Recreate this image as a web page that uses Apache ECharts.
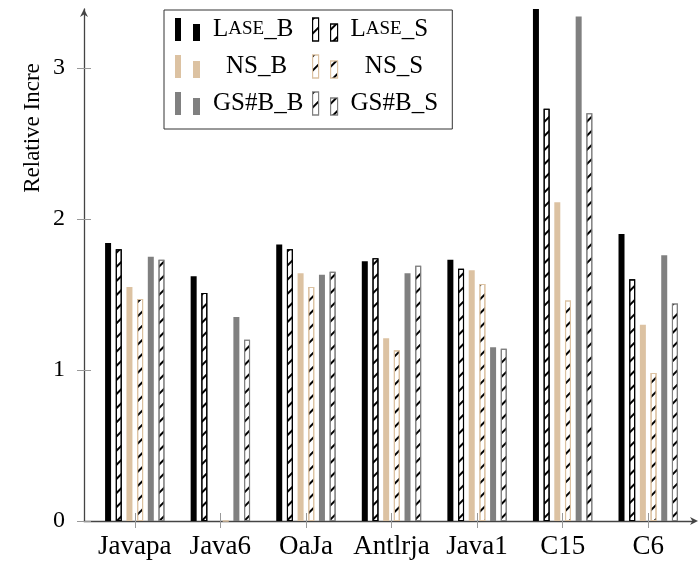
<!DOCTYPE html>
<html><head><meta charset="utf-8">
<script src="https://cdn.jsdelivr.net/npm/echarts@6/dist/echarts.min.js"></script>
<style>html,body{margin:0;padding:0;background:#fff}#c{width:699px;height:563px}</style>
</head><body><div id="c"></div>
<script>
const categories = ['Javapa', 'Java6', 'OaJa', 'Antlrja', 'Java1', 'C15', 'C6'];
const laseB = [1.84, 1.62, 1.83, 1.72, 1.73, 3.40, 1.90];
const laseS = [1.80, 1.51, 1.80, 1.74, 1.67, 2.73, 1.60];
const nsB   = [1.55, 0,    1.64, 1.21, 1.66, 2.11, 1.30];
const nsS   = [1.47, 0,    1.55, 1.13, 1.57, 1.46, 0.98];
const gsB   = [1.75, 1.35, 1.63, 1.64, 1.15, 3.34, 1.76];
const gsS   = [1.73, 1.20, 1.65, 1.69, 1.14, 2.70, 1.44];
const yTicks = [0, 1, 2, 3];
const yMax = 3.39;
const yTitle = 'Relative Incre';

const FONT = 'Liberation Serif';
const BLACK = '#000000', TAN = '#dcc2a2', GRAY = '#808080';
const hatch = { symbol: 'rect', symbolSize: 1, dashArrayX: [1, 0], dashArrayY: [2, 8], rotation: -Math.PI / 4, color: '#000' };
const arrow = 'path://M5,0 L10,10 L5,7 L0,10 Z';

function solid(name, data, color) {
  return { name, type: 'bar', xAxisIndex: 1, yAxisIndex: 1, data, barWidth: 6, barGap: '78%',
    itemStyle: { color } };
}
function hatched(name, data, border) {
  return { name, type: 'bar', xAxisIndex: 1, yAxisIndex: 1, data, barWidth: 6, barGap: '78%',
    itemStyle: { color: '#fff', borderColor: border, borderWidth: 1.1, decal: hatch } };
}

const labelMap = {
  'Lase_B': '{a|L}{b|ASE}{a|_B}',
  'Lase_S': '{a|L}{b|ASE}{a|_S}',
  'NS_B': '{c|NS_B}',
  'NS_S': '{c|NS_S}',
  'GS#B_B': '{a|GS#B_B}',
  'GS#B_S': '{a|GS#B_S}'
};

const legendText = {
  width: 87, lineHeight: 23, padding: [0, 0, 0, 8], color: '#000', fontFamily: FONT, fontSize: 25,
  rich: {
    a: { fontFamily: FONT, fontSize: 25, color: '#000' },
    b: { fontFamily: FONT, fontSize: 19, color: '#000' },
    c: { fontFamily: FONT, fontSize: 25, color: '#000', align: 'center' }
  }
};
const legendIcon = 'path://M0,0h6v23h-6Z M18,6h7v17h-7Z';

const chart = echarts.init(document.getElementById('c'));
chart.setOption({
  animation: false,
  backgroundColor: '#fff',
  grid: [
    { left: 84, right: 5, top: 9, bottom: 42 },
    { left: 92, right: 8, top: 9, bottom: 42 }
  ],
  xAxis: [
    { gridIndex: 0, type: 'value', min: 0, max: 1,
      axisLine: { show: true, onZero: false, symbol: ['none', arrow], symbolSize: [10, 8], lineStyle: { color: '#444', width: 1.3 } },
      axisTick: { show: false }, axisLabel: { show: false }, splitLine: { show: false } },
    { gridIndex: 1, type: 'category', data: categories, position: 'bottom',
      axisLine: { show: false, onZero: false },
      axisTick: { show: true, alignWithLabel: true, length: 7, lineStyle: { color: '#999', width: 1 } },
      axisLabel: { color: '#000', fontFamily: FONT, fontSize: 27, margin: 12, interval: 0 },
      splitLine: { show: false } },
    { gridIndex: 1, type: 'category', data: categories, position: 'bottom',
      axisLine: { show: false, onZero: false },
      axisTick: { show: true, inside: true, alignWithLabel: true, length: 8, lineStyle: { color: '#999', width: 1 } },
      axisLabel: { show: false }, splitLine: { show: false } }
  ],
  yAxis: [
    { gridIndex: 0, type: 'value', min: 0, max: yMax, position: 'left',
      axisLine: { show: true, onZero: false, symbol: ['none', arrow], symbolSize: [10, 8], symbolOffset: [0, -4], lineStyle: { color: '#444', width: 1.3 } },
      axisTick: { show: true, length: 7, customValues: yTicks, lineStyle: { color: '#999', width: 1 } },
      axisLabel: { customValues: yTicks, color: '#000', fontFamily: FONT, fontSize: 24, margin: 19 },
      splitLine: { show: false } },
    { gridIndex: 1, type: 'value', min: 0, max: yMax, show: false, splitLine: { show: false } },
    { gridIndex: 0, type: 'value', min: 0, max: yMax, position: 'left',
      axisLine: { show: false, onZero: false },
      axisTick: { show: true, inside: true, length: 7, customValues: yTicks, lineStyle: { color: '#999', width: 1 } },
      axisLabel: { show: false }, splitLine: { show: false } }
  ],
  legend: [
    { orient: 'vertical', left: 164, top: 10,
      padding: [7, 149, 13, 11], itemGap: 12,
      borderColor: '#333', borderWidth: 1, selectedMode: false,
      itemWidth: 25, itemHeight: 23, icon: legendIcon,
      data: [{ name: 'Lase_B' }, { name: 'NS_B' }, { name: 'GS#B_B' }],
      formatter: n => labelMap[n], textStyle: legendText },
    { orient: 'vertical', left: 312, top: 17,
      padding: 0, itemGap: 12, selectedMode: false,
      itemWidth: 25, itemHeight: 23, icon: legendIcon,
      data: [
        { name: 'Lase_S', itemStyle: { borderWidth: 1.1 } },
        { name: 'NS_S', itemStyle: { borderWidth: 1.1 } },
        { name: 'GS#B_S', itemStyle: { borderWidth: 1.1 } }
      ],
      formatter: n => labelMap[n], textStyle: legendText }
  ],
  graphic: [
    { type: 'text', x: 33, y: 128, rotation: Math.PI / 2,
      style: { text: yTitle, font: '23px "Liberation Serif"', fill: '#000', textAlign: 'center', textVerticalAlign: 'middle' } }
  ],
  series: [
    solid('Lase_B', laseB, BLACK),
    hatched('Lase_S', laseS, BLACK),
    solid('NS_B', nsB, TAN),
    hatched('NS_S', nsS, TAN),
    solid('GS#B_B', gsB, GRAY),
    hatched('GS#B_S', gsS, GRAY)
  ]
});
</script>
</body></html>
